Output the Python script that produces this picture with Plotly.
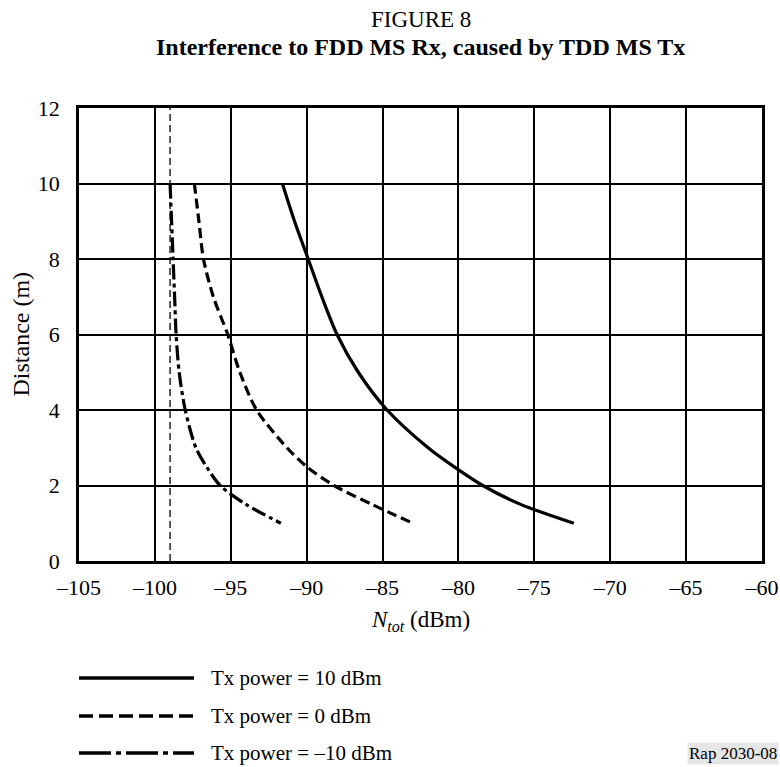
import plotly.graph_objects as go

# ---- data ----
distance_m = [10, 9, 8, 7, 6, 5, 4, 3, 2.5, 2, 1.5, 1]
ntot_tx_10dbm = [-91.6, -90.8, -89.9, -89.0, -88.0, -86.6, -84.7, -82.0, -80.3, -78.4, -75.9, -72.4]
ntot_tx_0dbm = [-97.4, -97.1, -96.8, -96.15, -95.2, -94.4, -93.3, -91.3, -90.0, -88.2, -85.7, -83.0]
ntot_tx_m10dbm = [-99.0, -98.9, -98.8, -98.7, -98.6, -98.4, -98.0, -97.3, -96.6, -95.7, -94.0, -91.7]
noise_floor_dbm = -99.0
noise_floor_span = [0, 12]

series_names = ["Tx power = 10 dBm", "Tx power = 0 dBm", "Tx power = –10 dBm"]
x_ticks = [-105, -100, -95, -90, -85, -80, -75, -70, -65, -60]
x_tick_labels = ["–105", "–100", "–95", "–90", "–85", "–80", "–75", "–70", "–65", "–60"]
y_ticks = [0, 2, 4, 6, 8, 10, 12]
y_tick_labels = ["0", "2", "4", "6", "8", "10", "12"]

FONT = "Liberation Serif, Times New Roman, serif"
DASH = "10px,5px"
DASHDOT = "15px,4px,4px,4px"

fig = go.Figure()
fig.add_trace(go.Scatter(x=[noise_floor_dbm, noise_floor_dbm], y=noise_floor_span, mode="lines",
                         line=dict(color="black", width=1.3, dash="7px,4px"), showlegend=False))
styles = [("solid", 3.2), (DASH, 3.2), (DASHDOT, 3.2)]
for name, xs, (dash, w) in zip(series_names, [ntot_tx_10dbm, ntot_tx_0dbm, ntot_tx_m10dbm], styles):
    fig.add_trace(go.Scatter(x=xs, y=distance_m, mode="lines", name=name,
                             line=dict(color="black", width=w, dash=dash, shape="spline", smoothing=0.8),
                             showlegend=False))

PL, PR, PT, PB = 79, 762, 108, 561
W, H = 780, 767
pw, ph = PR - PL, PB - PT

def px(x):
    return (x - PL) / pw

def py(y):
    return (PB - y) / ph

# legend drawn manually (long sample lines like the reference)
leg_rows = [678, 716, 753]
leg_dashes = ["solid", "14px,6px", "32px,5px,5px,5px"]
for name, yrow, dash in zip(series_names, leg_rows, leg_dashes):
    fig.add_shape(type="line", xref="paper", yref="paper", x0=px(79), x1=px(194), y0=py(yrow), y1=py(yrow),
                  line=dict(color="black", width=3.5, dash=dash))
    fig.add_annotation(xref="paper", yref="paper", x=px(209), y=py(yrow), text=name, showarrow=False,
                       xanchor="left", yanchor="middle", font=dict(family=FONT, size=21, color="black"))

fig.add_annotation(xref="paper", yref="paper", x=px(779), y=py(753), text="Rap 2030-08", showarrow=False,
                   xanchor="right", yanchor="middle", bgcolor="#e6e6e6", borderpad=1,
                   font=dict(family=FONT, size=17, color="black"))

fig.add_annotation(xref="paper", yref="paper", x=0.5, y=py(621),
                   text="<i>N<sub>tot</sub></i> (dBm)", showarrow=False, xanchor="center", yanchor="middle",
                   font=dict(family=FONT, size=23, color="black"))

fig.add_annotation(xref="paper", yref="paper", x=px(20), y=0.5, text="Distance (m)", textangle=-90,
                   showarrow=False, xanchor="center", yanchor="middle",
                   font=dict(family=FONT, size=24, color="black"))

fig.add_annotation(xref="paper", yref="paper", x=0.5, y=py(19), text="FIGURE 8", showarrow=False,
                   xanchor="center", yanchor="middle", font=dict(family=FONT, size=23, color="black"))
fig.add_annotation(xref="paper", yref="paper", x=0.5, y=py(47),
                   text="<b>Interference to FDD MS Rx, caused by TDD MS Tx</b>", showarrow=False,
                   xanchor="center", yanchor="middle", font=dict(family=FONT, size=24, color="black"))

fig.update_layout(
    width=W, height=H, margin=dict(l=PL, r=W - PR, t=PT, b=H - PB),
    paper_bgcolor="white", plot_bgcolor="white", showlegend=False,
    font=dict(family=FONT, size=22, color="black"),
    xaxis=dict(range=[-105, -60], tickvals=x_ticks, ticktext=x_tick_labels, showgrid=True,
               gridcolor="black", gridwidth=2, zeroline=False, showline=True, linecolor="black",
               linewidth=2.5, mirror=True, ticks="", ticklabelstandoff=5, automargin=False,
               tickfont=dict(family=FONT, size=22, color="black")),
    yaxis=dict(range=[0, 12], tickvals=y_ticks, ticktext=y_tick_labels, showgrid=True,
               gridcolor="black", gridwidth=2, zeroline=False, showline=True, linecolor="black",
               linewidth=2.5, mirror=True, ticks="", ticklabelstandoff=12, automargin=False,
               tickfont=dict(family=FONT, size=22, color="black")),
)

fig.write_html("out.html", config={"displayModeBar": False},
               post_script="document.body.style.margin='0';document.body.style.overflow='hidden';")
